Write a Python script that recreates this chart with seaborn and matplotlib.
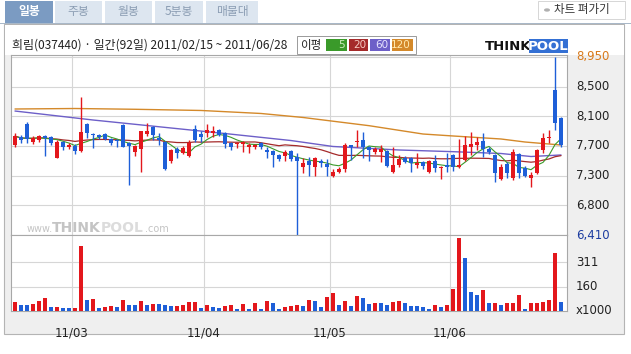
import numpy as np
import pandas as pd
import matplotlib
matplotlib.use("Agg")
import matplotlib.pyplot as plt
import matplotlib.transforms as mtransforms
from matplotlib.patches import Rectangle, Circle
import seaborn as sns

# ---------------- data ----------------
opens = [7690, 7810, 7990, 7740, 7770, 7820, 7810, 7510, 7740, 7670,
         7680, 7610, 7990, 7850, 7840, 7850, 7780, 7770, 7980, 7720,
         7590, 7640, 7850, 7950, 7790, 7740, 7470, 7640, 7580, 7540,
         7920, 7850, 7870, 7870, 7910, 7870, 7720, 7710, 7710, 7670,
         7670, 7720, 7620, 7610, 7550, 7540, 7610, 7520, 7380, 7470,
         7380, 7470, 7420, 7250, 7310, 7350, 7690, 7740, 7770, 7670,
         7590, 7590, 7610, 7310, 7410, 7510, 7510, 7410, 7450, 7310,
         7470, 7370, 7410, 7550, 7380, 7480, 7670, 7690, 7750, 7640,
         7550, 7210, 7420, 7220, 7570, 7370, 7220, 7300, 7620, 7790,
         8480, 8080]
highs = [7870, 7840, 8020, 7820, 7840, 7840, 7820, 7770, 7750, 7720,
         7710, 8380, 8010, 7870, 7850, 7860, 7790, 7780, 7990, 7740,
         7700, 7900, 8010, 7960, 7870, 7750, 7640, 7670, 7680, 7770,
         7980, 7890, 7990, 7970, 7920, 7880, 7740, 7740, 7750, 7720,
         7710, 7740, 7660, 7620, 7570, 7630, 7620, 7580, 7510, 7520,
         7520, 7490, 7490, 7350, 7380, 7720, 7700, 7910, 7880, 7680,
         7670, 7700, 7620, 7670, 7550, 7540, 7520, 7580, 7470, 7480,
         7550, 7400, 7580, 7570, 7780, 7820, 7880, 7810, 7860, 7660,
         7570, 7420, 7450, 7640, 7580, 7400, 7310, 7640, 7860, 7910,
         8950, 8100]
lows = [7670, 7720, 7720, 7710, 7740, 7540, 7690, 7510, 7620, 7640,
        7570, 7590, 7790, 7650, 7780, 7760, 7700, 7670, 7660, 7130,
        7540, 7310, 7820, 7770, 7690, 7340, 7440, 7510, 7570, 7530,
        7740, 7740, 7810, 7810, 7820, 7650, 7630, 7650, 7590, 7580,
        7640, 7640, 7510, 7380, 7460, 7470, 7470, 6410, 7300, 7250,
        7250, 7380, 7250, 7240, 7300, 7310, 7480, 7670, 7510, 7470,
        7570, 7450, 7380, 7300, 7380, 7440, 7310, 7370, 7350, 7300,
        7310, 7210, 7310, 7320, 7370, 7460, 7550, 7620, 7520, 7570,
        7170, 7190, 7230, 7200, 7220, 7240, 7100, 7280, 7580, 7720,
        7910, 7670]
closes = [7820, 7770, 7780, 7790, 7820, 7790, 7720, 7740, 7670, 7690,
          7610, 7880, 7870, 7840, 7810, 7780, 7720, 7750, 7670, 7680,
          7680, 7890, 7890, 7840, 7770, 7350, 7620, 7580, 7650, 7720,
          7770, 7810, 7910, 7890, 7840, 7710, 7670, 7720, 7740, 7690,
          7690, 7670, 7600, 7550, 7500, 7590, 7490, 7470, 7440, 7410,
          7510, 7440, 7380, 7310, 7350, 7690, 7670, 7750, 7670, 7620,
          7640, 7640, 7390, 7410, 7490, 7450, 7440, 7440, 7390, 7470,
          7370, 7380, 7380, 7380, 7410, 7690, 7710, 7740, 7640, 7590,
          7300, 7380, 7300, 7590, 7300, 7250, 7270, 7620, 7790, 7810,
          8010, 7690]
volumes = [59, 38, 38, 47, 64, 83, 25, 26, 19, 19,
           20, 416, 70, 76, 19, 25, 32, 25, 70, 38,
           38, 64, 38, 45, 44, 38, 32, 33, 38, 57,
           58, 19, 38, 25, 19, 32, 38, 13, 45, 13,
           51, 13, 64, 51, 13, 25, 32, 38, 30, 70,
           64, 25, 89, 115, 38, 64, 32, 95, 83, 45,
           51, 50, 38, 57, 64, 51, 32, 31, 25, 13,
           38, 25, 38, 140, 467, 337, 121, 102, 134, 51,
           52, 38, 51, 52, 102, 13, 51, 52, 57, 70,
           371, 57]

# long moving averages (prior history not shown) read as points
ma60_idx = [0, 13, 26, 35, 46, 53, 64, 73, 81, 86, 91]
ma60_val = [8179, 8051, 7937, 7858, 7758, 7673, 7623, 7599, 7573, 7530, 7552]
ma120_idx = [0, 10, 20, 31, 41, 48, 59, 68, 73, 81, 85, 91]
ma120_val = [8208, 8215, 8204, 8187, 8144, 8087, 7970, 7851, 7823, 7780, 7737, 7694]

price_ticks = [6410, 6833, 7257, 7680, 8103, 8527, 8950]
price_labels = ["6,410", "6,800", "7,300", "7,700", "8,100", "8,500", "8,950"]
vol_ticks = [155.5, 311]
vol_labels = ["160", "311"]
month_labels = ["11/03", "11/04", "11/05", "11/06"]
month_first_idx = [10, 32, 53, 73]

title_text = "희림(037440) · 일간(92일) 2011/02/15 ~ 2011/06/28"
tabs = ["일봉", "주봉", "월봉", "5분봉", "매물대"]
ma_names = ["5", "20", "60", "120"]

# ---------------- style ----------------
sns.set_theme(style="white")
plt.rcParams['font.family'] = ['Noto Sans CJK KR', 'DejaVu Sans']

RED = '#e3171c'
BLUE = '#1e5fd8'
GRID = '#d6d6d6'
SPINE = '#a8a8a8'
MA_COLORS = ['#3a9a2a', '#a52a2a', '#6d5fc8', '#d4892a']

W, H = 631, 354
fig = plt.figure(figsize=(W / 100, H / 100), dpi=100, facecolor='white')


def fx(x):
    return x / W


def fy(y):
    return 1 - y / H


def rect(x0, y0, x1, y1, fc, ec='none', lw=0.0, z=-5):
    fig.patches.append(Rectangle((fx(x0), fy(y1)), fx(x1) - fx(x0), fy(y0) - fy(y1),
                                 transform=fig.transFigure, facecolor=fc,
                                 edgecolor=ec, linewidth=lw, zorder=z))


# page chrome
rect(0, 0, 631, 354, '#ffffff', z=-10)
rect(4, 24, 624, 334, '#efefef', ec='#b4b4b4', lw=0.8, z=-9)
rect(4.5, 24.5, 623.5, 55, '#ffffff', z=-8)
rect(0, 23, 631, 24, '#a9b8c8', z=-7)

# tabs
tab_x = [(5, 53), (55, 102), (105, 152), (155, 203), (206, 258)]
for k, (name, (a, b)) in enumerate(zip(tabs, tab_x)):
    sel = k == 0
    rect(a, 1, b, 23, '#7b9bc2' if sel else '#dde6f0')
    fig.text(fx((a + b) / 2), fy(12), name, ha='center', va='center', fontsize=8.5,
             color='white' if sel else '#8b9db3', fontweight='bold' if sel else 'normal')

# button
rect(538, 1, 625, 19, '#ffffff', ec='#d0d0d0', lw=0.6)
fig.patches.append(Circle((fx(547), fy(10)), 3.0 / W, transform=fig.transFigure,
                          facecolor='#b0b0b0', edgecolor='none', zorder=-4))
fig.text(fx(554), fy(10), "차트 펴가기", ha='left', va='center', fontsize=8.3, color='#333333')

# title
fig.text(fx(12), fy(45), title_text, ha='left', va='center', fontsize=8.6, color='#222222')

# MA legend box
rect(297, 36, 416, 54, '#ffffff', ec='#9a9a9a', lw=0.7)
fig.text(fx(300), fy(45), "이평", ha='left', va='center', fontsize=8.3, color='#222222')
box_x = [(326, 347), (349, 368), (370, 390), (392, 413)]
txt_cols = ['#cdeec0', '#f5c8c0', '#e8e4ff', '#ffeab0']
for (a, b), c, nm, tc in zip(box_x, MA_COLORS, ma_names, txt_cols):
    rect(a, 39, b, 51, c, z=-4)
    fig.text(fx(b - 2), fy(45.5), nm, ha='right', va='center', fontsize=7.5, color=tc,
             family='DejaVu Sans')

# THINKPOOL logo
fig.text(fx(485), fy(46), "THINK", ha='left', va='center', fontsize=9.5,
         fontweight='heavy', color='#111111', family='DejaVu Sans')
rect(529, 39, 568, 53, '#3470d4', z=-4)
fig.text(fx(548.5), fy(46), "POOL", ha='center', va='center', fontsize=9.5,
         fontweight='heavy', color='white', family='DejaVu Sans')

# ---------------- axes ----------------
L, R = 11, 567
axp = fig.add_axes([fx(L), fy(235), fx(R) - fx(L), fy(55) - fy(235)])
axv = fig.add_axes([fx(L), fy(311), fx(R) - fx(L), fy(235) - fy(311)])

n = len(closes)
idx = np.arange(n)
df = pd.DataFrame({'i': idx, 'open': opens, 'high': highs, 'low': lows,
                   'close': closes, 'vol': volumes})
df['up'] = df['close'] >= df['open']
df['ccol'] = np.where(df['up'], RED, BLUE)
df['vup'] = df['vol'] > df['vol'].shift(1).fillna(0)
df['vcol'] = np.where(df['vup'], RED, BLUE)
df['ma5'] = df['close'].rolling(5, min_periods=1).mean()
df['ma20'] = df['close'].rolling(20, min_periods=1).mean()

xl = (-0.667, 92.0)
p_lo = 6410
p_hi = 6410 + 180 * 2540 / 178
for ax in (axp, axv):
    ax.set_facecolor('white')
    ax.set_xlim(*xl)
    for s in ax.spines.values():
        s.set_color(SPINE)
        s.set_linewidth(0.8)
    ax.tick_params(left=False, right=False, bottom=False, top=False,
                   labelleft=False, labelright=False, labelbottom=False)
    for b in month_first_idx:
        ax.axvline(b - 0.5, color=GRID, lw=0.8, zorder=0)

axp.set_ylim(p_lo, p_hi)
axp.set_xticks([])
axp.set_yticks([])
for v in price_ticks[1:]:
    axp.axhline(v, color=GRID, lw=0.8, zorder=0)

# moving averages
sns.lineplot(x=ma120_idx, y=ma120_val, ax=axp, color=MA_COLORS[3], lw=1.0, zorder=2)
sns.lineplot(x=ma60_idx, y=ma60_val, ax=axp, color=MA_COLORS[2], lw=1.0, zorder=2)
sns.lineplot(data=df, x='i', y='ma20', ax=axp, color=MA_COLORS[1], lw=0.9, zorder=2)
sns.lineplot(data=df, x='i', y='ma5', ax=axp, color=MA_COLORS[0], lw=0.8, zorder=2)

# candles
axp.vlines(df['i'], df['low'], df['high'], colors=df['ccol'], lw=1.0, zorder=3)
body_lo = np.minimum(df['open'], df['close'])
body_h = np.maximum(np.abs(df['close'] - df['open']), 14)
axp.bar(df['i'], body_h, bottom=body_lo, width=0.78, color=df['ccol'], lw=0, zorder=4)
axp.set_xlabel('')
axp.set_ylabel('')

blend_p = mtransforms.blended_transform_factory(fig.transFigure, axp.transData)
for v, lab in zip(price_ticks, price_labels):
    col = '#222222'
    if v == max(price_ticks):
        col = '#d87a1c'
    elif v == min(price_ticks):
        col = '#1c3ca0'
    axp.text(fx(576), v, lab, transform=blend_p, ha='left', va='center',
             fontsize=8.5, color=col, family='DejaVu Sans', clip_on=False)

# volume
axv.set_ylim(0, 484)
for v in vol_ticks:
    axv.axhline(v, color=GRID, lw=0.8, zorder=0)
axv.bar(df['i'], df['vol'], width=0.8, color=df['vcol'], lw=0, zorder=3)
axv.set_yticks([])
blend_v = mtransforms.blended_transform_factory(fig.transFigure, axv.transData)
for v, lab in zip(vol_ticks, vol_labels):
    axv.text(fx(576), v, lab, transform=blend_v, ha='left', va='center',
             fontsize=8.5, color='#222222', family='DejaVu Sans', clip_on=False)
axv.text(fx(576), 5, "x1000", transform=blend_v, ha='left', va='center',
         fontsize=8.5, color='#222222', family='DejaVu Sans', clip_on=False)
axv.set_xticks([b - 0.5 for b in month_first_idx])
axv.set_xticklabels(month_labels)
axv.tick_params(labelbottom=True, pad=5, labelsize=8.5, labelcolor='#222222')
for t in axv.get_xticklabels():
    t.set_family('DejaVu Sans')
axv.set_xlabel('')
axv.set_ylabel('')

# watermark
fig.text(fx(27), fy(229), "www.", ha='left', va='center', fontsize=7, color='#c4c4c4',
         family='DejaVu Sans', zorder=1)
fig.text(fx(52), fy(228), "THINK", ha='left', va='center', fontsize=10, fontweight='heavy',
         color='#c4c4c4', family='DejaVu Sans', zorder=1)
fig.text(fx(101), fy(228), "POOL", ha='left', va='center', fontsize=10, fontweight='heavy',
         color='#dcdcdc', family='DejaVu Sans', zorder=1)
fig.text(fx(145), fy(229), ".com", ha='left', va='center', fontsize=7, color='#c4c4c4',
         family='DejaVu Sans', zorder=1)

fig.savefig('out.png', dpi=100, facecolor=fig.get_facecolor())
